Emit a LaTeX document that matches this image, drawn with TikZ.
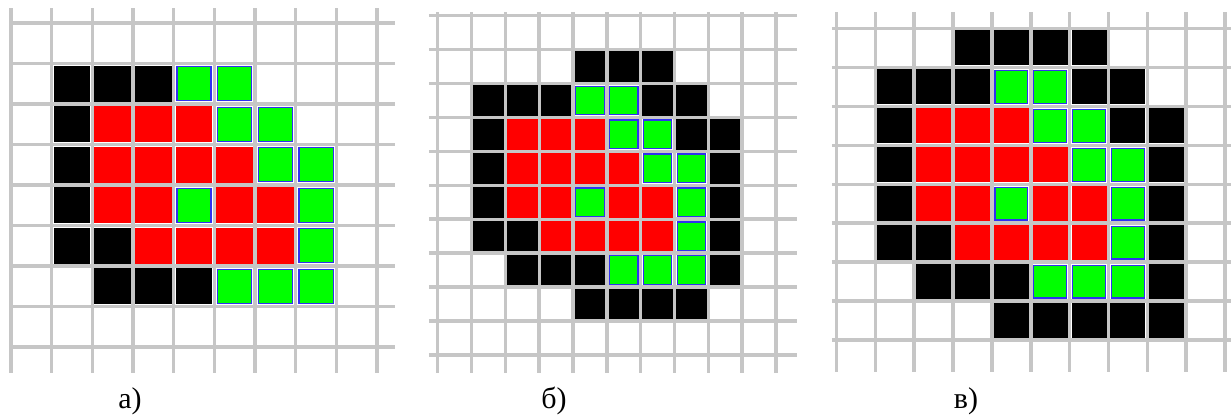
\documentclass[tikz,border=0pt]{standalone}
\usepackage{fontspec}
\setmainfont{Liberation Serif}
\usepackage{tikz}
\usetikzlibrary{positioning}
\definecolor{gridgray}{HTML}{C6C6C6}
\definecolor{cellred}{HTML}{FF0000}
\definecolor{cellgreen}{HTML}{00FF00}
\definecolor{cellblue}{HTML}{3030F0}
\tikzset{
  gridline/.style={draw=gridgray, line width=3.5pt},
  blackcell/.style={fill=black},
  redcell/.style={fill=cellred},
  greencell/.style={fill=cellgreen, draw=cellblue, line width=1.2pt},
  panellabel/.style={anchor=base, font=\fontsize{30}{36}\selectfont},
}
% cells of the figure itself, (column/row) from the top left corner
\newcommand{\redlist}{2/2,3/2,4/2,2/3,3/3,4/3,5/3,2/4,3/4,5/4,6/4,3/5,4/5,5/5,6/5}
\newcommand{\greenlist}{4/1,5/1,5/2,6/2,6/3,7/3,4/4,7/4,7/5,5/6,6/6,7/6}
\newcommand{\drawcore}[1]{%
  \foreach \c/\r in \redlist
    \fill[redcell] (\c+0.05,\r+#1+0.05) rectangle (\c+0.95,\r+#1+0.95);
  \foreach \c/\r in \greenlist
    \filldraw[greencell] (\c+0.08,\r+#1+0.08) rectangle (\c+0.92,\r+#1+0.92);
}

\begin{document}
\begin{tikzpicture}[x=1pt, y=-1pt]
  \useasboundingbox (0,0) rectangle (1231,415);

  % a)
  \begin{scope}[shift={(11,23)}, x=40.67pt, y=-40.5pt]
    \foreach \i in {0,...,9}
      \draw[gridline] (\i,-0.37) -- (\i,8.64);
    \foreach \j in {0,...,8}
      \draw[gridline] (-0.02,\j) -- (9.44,\j);
    \foreach \c/\r in {1/1,2/1,3/1,1/2,1/3,1/4,1/5,2/5,2/6,3/6,4/6}
      \fill[blackcell] (\c+0.05,\r+0.05) rectangle (\c+0.95,\r+0.95);
    \drawcore{0}
  \end{scope}

  % b)
  \begin{scope}[shift={(437.7,15.5)}, x=33.83pt, y=-33.95pt]
    \foreach \i in {0,...,10}
      \draw[gridline] (\i,-0.1) -- (\i,10.53);
    \foreach \j in {0,...,10}
      \draw[gridline] (-0.26,\j) -- (10.62,\j);
    \foreach \c/\r in {4/1,5/1,6/1,1/2,2/2,3/2,6/2,7/2,1/3,7/3,8/3,1/4,8/4,
                       1/5,8/5,1/6,2/6,8/6,2/7,3/7,4/7,8/7,4/8,5/8,6/8,7/8}
      \fill[blackcell] (\c+0.05,\r+0.05) rectangle (\c+0.95,\r+0.95);
    \drawcore{1}
  \end{scope}

  % c)
  \begin{scope}[shift={(836.5,28.5)}, x=38.85pt, y=-38.94pt]
    \foreach \i in {0,...,10}
      \draw[gridline] (\i,-0.42) -- (\i,8.82);
    \foreach \j in {0,...,8}
      \draw[gridline] (-0.12,\j) -- (10.2,\j);
    \foreach \c/\r in {3/0,4/0,5/0,6/0,1/1,2/1,3/1,6/1,7/1,1/2,7/2,8/2,1/3,8/3,
                       1/4,8/4,1/5,2/5,8/5,2/6,3/6,4/6,8/6,4/7,5/7,6/7,7/7,8/7}
      \fill[blackcell] (\c+0.05,\r+0.05) rectangle (\c+0.95,\r+0.95);
    \drawcore{0}
  \end{scope}

  \node[panellabel] (lbla) at (130,408) {а)};
  \node[panellabel] (lblb) at (554,408) {б)};
  \node[panellabel] (lblc) at (966,408) {в)};
\end{tikzpicture}
\end{document}
